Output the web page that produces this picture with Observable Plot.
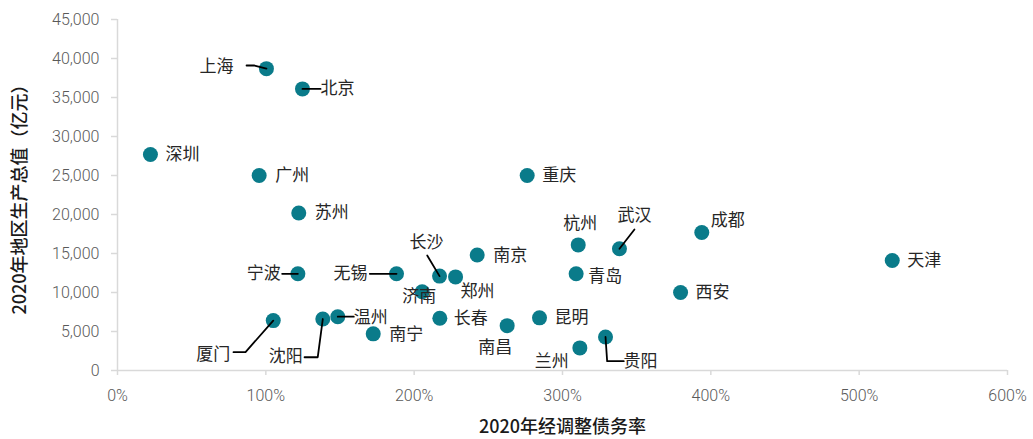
<!DOCTYPE html>
<html>
<head>
<meta charset="utf-8">
<script src="https://cdn.jsdelivr.net/npm/d3@7"></script>
<script src="https://cdn.jsdelivr.net/npm/@observablehq/plot@0.6"></script>
<style>
  html, body { margin: 0; padding: 0; background: #fff; }
  #chart svg { display: block; }
</style>
</head>
<body>
<div id="chart"></div>
<script>
// ---- Data ----
const cities    = ["上海","北京","深圳","广州","重庆","苏州","成都","杭州","武汉","南京","天津","宁波","青岛","无锡","长沙","郑州","济南","西安","厦门","沈阳","温州","南宁","长春","南昌","昆明","兰州","贵阳"];
const debtRatio = [100.4,124.7,22.2,95.5,276.2,122.2,393.9,310.6,338.4,242.5,522.3,121.6,309.2,188.1,217.1,227.9,205.4,379.6,105.0,138.4,148.5,172.4,217.3,262.7,284.5,311.7,329.0]; // %
const gdp       = [38700,36100,27700,25000,25000,20200,17700,16100,15600,14800,14100,12400,12400,12400,12100,12000,10100,10000,6400,6600,6900,4700,6700,5750,6750,2900,4300]; // 亿元

const xTicks = [0,100,200,300,400,500,600];
const yTicks = [0,5000,10000,15000,20000,25000,30000,35000,40000,45000];
const xTitle = "2020年经调整债务率";
const yTitle = "2020年地区生产总值（亿元）";

// Label placement (pixel offsets from each point), aligned with cities
const labelAnchor = ["end","start","start","start","start","start","start","middle","middle","start","start","end","start","end","middle","middle","middle","start","end","end","start","start","start","middle","start","end","start"];
const labelDx     = [-33,18,15,16,15,16,9,2,15,16,15,-17,12,-29,-13,22,-3,15,-43,-20,16,16,14,-12,15,-11,18];
const labelDy     = [-2,0,0,0,0,0,-12,-21,-33,0,0,0,3,0,-34,15,5,0,34,38,1,1,0,22,0,14,25];

// Leader line waypoints (data units), each path starts at its city's point
const leaderCity = ["上海","上海","北京","宁波","无锡","长沙","武汉","温州","沈阳","沈阳","厦门","厦门","贵阳","贵阳"];
const leaderX    = [92.4,87.0,136.9,111.0,170.1,208.8,348.5,159.3,135.0,126.1,86.3,78.2,330.1,341.3];
const leaderY    = [39100,39100,36100,12400,12400,14750,18080,6900,1700,1700,2350,2350,1190,1190];

// ---- Build tables ----
const data = cities.map((c, i) => ({city: c, x: debtRatio[i], y: gdp[i]}));
const byCity = new Map(data.map(d => [d.city, d]));
const leaders = [];
const seen = new Set();
leaderCity.forEach((c, i) => {
  if (!seen.has(c)) { seen.add(c); const p = byCity.get(c); leaders.push({city: c, x: p.x, y: p.y}); }
  leaders.push({city: c, x: leaderX[i], y: leaderY[i]});
});

const teal = "#0a7b8a";
const axisGray = "#d9d9d9";
const tickText = "#595959";
const cjk = "'Noto Sans CJK SC', sans-serif";

const labelMarks = data.map((d, i) => Plot.text([d], {
  x: "x", y: "y", text: "city",
  dx: labelDx[i], dy: labelDy[i], textAnchor: labelAnchor[i],
  fontSize: 17, fontFamily: cjk, fill: "#262626"
}));

const chart = Plot.plot({
  width: 1033,
  height: 439,
  marginLeft: 117,
  marginRight: 26,
  marginTop: 19,
  marginBottom: 69,
  x: {domain: [0, 600]},
  y: {domain: [0, 45000]},
  style: {fontFamily: "Roboto, sans-serif", background: "#fff", overflow: "visible"},
  marks: [
    Plot.axisY(yTicks, {tickSize: 6, tickPadding: 12, tickFormat: d3.format(","), fontSize: 16, fontWeight: 300, fill: tickText, stroke: axisGray, strokeWidth: 1.5, label: null}),
    Plot.axisX(xTicks, {tickSize: 5, tickPadding: 14, tickFormat: d => d + "%", fontSize: 16, fontWeight: 300, fill: tickText, stroke: axisGray, strokeWidth: 1.5, label: null}),
    Plot.ruleY([0], {stroke: axisGray, strokeWidth: 1.5}),
    Plot.ruleX([0], {stroke: axisGray, strokeWidth: 1.5}),
    Plot.dot(data, {x: "x", y: "y", r: 7.5, fill: teal}),
    Plot.line(leaders, {x: "x", y: "y", z: "city", stroke: "#000", strokeWidth: 1.8, curve: "linear"}),
    ...labelMarks,
    Plot.text([xTitle], {frameAnchor: "bottom", textAnchor: "middle", lineAnchor: "middle", dy: 57, fontSize: 18, fontWeight: 500, fontFamily: cjk, fill: "#1a1a1a"}),
    Plot.text([yTitle], {frameAnchor: "left", textAnchor: "middle", lineAnchor: "middle", dx: -97, rotate: -90, fontSize: 18, fontWeight: 500, fontFamily: cjk, fill: "#1a1a1a"})
  ]
});
document.getElementById("chart").appendChild(chart);
</script>
</body>
</html>
